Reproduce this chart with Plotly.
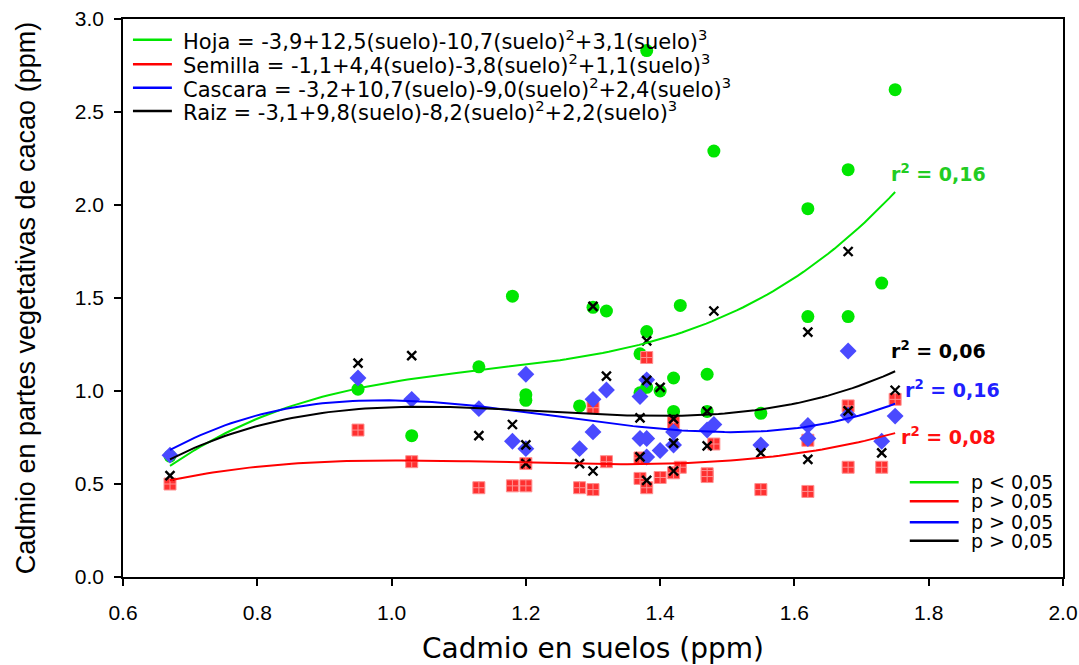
import numpy as np
import plotly.graph_objects as go

# ---------------- data ----------------
hoja_x = [0.67, 0.95, 1.03, 1.13, 1.18, 1.20, 1.20, 1.28, 1.30, 1.32, 1.38, 1.38, 1.37, 1.38, 1.37,
          1.40, 1.42, 1.43, 1.42, 1.47, 1.47, 1.48, 1.55, 1.62, 1.62, 1.68, 1.68, 1.73, 1.75]
hoja_y = [0.65, 1.01, 0.76, 1.13, 1.51, 0.98, 0.95, 0.92, 1.45, 1.43, 2.83, 1.32, 1.20, 1.02, 0.99,
          1.00, 1.07, 1.46, 0.89, 1.09, 0.89, 2.29, 0.88, 1.98, 1.40, 2.19, 1.40, 1.58, 2.62]

semilla_x = [0.67, 0.95, 1.03, 1.13, 1.18, 1.20, 1.20, 1.28, 1.30, 1.30, 1.32, 1.38, 1.37, 1.37, 1.38,
             1.40, 1.42, 1.43, 1.42, 1.47, 1.47, 1.48, 1.55, 1.62, 1.62, 1.68, 1.68, 1.73, 1.75]
semilla_y = [0.50, 0.79, 0.62, 0.48, 0.49, 0.61, 0.49, 0.48, 0.91, 0.47, 0.62, 1.18, 0.64, 0.53, 0.48,
             0.535, 0.83, 0.59, 0.56, 0.555, 0.54, 0.715, 0.47, 0.735, 0.46, 0.92, 0.59, 0.59, 0.955]

cascara_x = [0.67, 0.95, 1.03, 1.13, 1.18, 1.20, 1.20, 1.28, 1.30, 1.30, 1.32, 1.38, 1.37, 1.37, 1.38,
             1.38, 1.40, 1.42, 1.42, 1.47, 1.48, 1.55, 1.62, 1.62, 1.68, 1.68, 1.73, 1.75]
cascara_y = [0.655, 1.07, 0.955, 0.905, 0.73, 1.09, 0.69, 0.69, 0.955, 0.78, 1.005, 1.06, 0.97, 0.745, 0.745,
             0.645, 0.68, 0.78, 0.71, 0.79, 0.82, 0.71, 0.815, 0.745, 1.215, 0.87, 0.73, 0.865]

raiz_x = [0.67, 0.95, 1.03, 1.13, 1.18, 1.20, 1.20, 1.28, 1.30, 1.30, 1.32, 1.38, 1.38, 1.37, 1.37,
          1.38, 1.40, 1.42, 1.42, 1.42, 1.48, 1.47, 1.47, 1.55, 1.62, 1.62, 1.68, 1.68, 1.73, 1.75]
raiz_y = [0.545, 1.15, 1.19, 0.76, 0.82, 0.71, 0.61, 0.61, 1.455, 0.57, 1.08, 1.27, 1.057, 0.855, 0.646,
          0.52, 1.02, 0.85, 0.72, 0.57, 1.43, 0.89, 0.705, 0.667, 1.317, 0.632, 1.75, 0.893, 0.667, 1.004]

equations = [
    "Hoja = -3,9+12,5(suelo)-10,7(suelo)<sup>2</sup>+3,1(suelo)<sup>3</sup>",
    "Semilla = -1,1+4,4(suelo)-3,8(suelo)<sup>2</sup>+1,1(suelo)<sup>3</sup>",
    "Cascara = -3,2+10,7(suelo)-9,0(suelo)<sup>2</sup>+2,4(suelo)<sup>3</sup>",
    "Raiz = -3,1+9,8(suelo)-8,2(suelo)<sup>2</sup>+2,2(suelo)<sup>3</sup>",
]
r2_labels = ["r<sup>2</sup> = 0,16", "r<sup>2</sup> = 0,08", "r<sup>2</sup> = 0,16", "r<sup>2</sup> = 0,06"]
p_labels = ["p < 0,05", "p > 0,05", "p > 0,05", "p > 0,05"]

# ---------------- styles ----------------
line_colors = ["#00e600", "#ff0000", "#0000ff", "#000000"]
label_colors = ["#22cc22", "#ff1010", "#2020ff", "#000000"]
FONT = "DejaVu Sans"

fig = go.Figure()

fig.add_trace(go.Scatter(x=hoja_x, y=hoja_y, mode="markers",
                         marker=dict(symbol="circle", size=13, color="#00e600", line=dict(width=0))))
fig.add_trace(go.Scatter(x=semilla_x, y=semilla_y, mode="markers",
                         marker=dict(symbol="square-cross", size=12, color="#ff3030",
                                     line=dict(width=1, color="#ff9090"))))
fig.add_trace(go.Scatter(x=cascara_x, y=cascara_y, mode="markers",
                         marker=dict(symbol="diamond", size=13, color="#4a4aff", line=dict(width=0))))
fig.add_trace(go.Scatter(x=raiz_x, y=raiz_y, mode="markers",
                         marker=dict(symbol="x-thin", size=9, line=dict(width=2.4, color="black"))))

# cubic regression curves fitted to the data
series = [(hoja_x, hoja_y), (semilla_x, semilla_y), (cascara_x, cascara_y), (raiz_x, raiz_y)]
for (sx, sy), col in zip(series, line_colors):
    coef = np.polyfit(sx, sy, 3)
    xx = np.linspace(min(sx), max(sx), 120)
    yy = np.polyval(coef, xx)
    fig.add_trace(go.Scatter(x=xx, y=yy, mode="lines", line=dict(color=col, width=2)))

# r^2 labels next to the curve ends
r2_pos_y = [2.17, 0.757, 1.009, 1.218]
r2_pos_x = [1.741, 1.756, 1.762, 1.741]
for lab, c, xx, yy in zip(r2_labels, label_colors, r2_pos_x, r2_pos_y):
    fig.add_annotation(x=xx, y=yy, xref="x", yref="y", text=lab, showarrow=False,
                       xanchor="left", yanchor="middle",
                       font=dict(family=FONT, size=19, color=c, weight="bold"))

# equation legend (top-left)
shapes = []
eq_rows = [0.9630, 0.9190, 0.8770, 0.8350]
for txt, col, yp in zip(equations, line_colors, eq_rows):
    shapes.append(dict(type="line", xref="paper", yref="paper", x0=0.0106, x1=0.052, y0=yp, y1=yp,
                       line=dict(color=col, width=2.5)))
    fig.add_annotation(x=0.0617, y=yp, xref="paper", yref="paper", text=txt, showarrow=False,
                       xanchor="left", yanchor="middle",
                       font=dict(family=FONT, size=21, color="black"))

# p-value legend (bottom-right)
p_rows = [0.1697, 0.1357, 0.0981, 0.0651]
for txt, col, yp in zip(p_labels, line_colors, p_rows):
    shapes.append(dict(type="line", xref="paper", yref="paper", x0=0.837, x1=0.889, y0=yp, y1=yp,
                       line=dict(color=col, width=2.5)))
    fig.add_annotation(x=0.900, y=yp, xref="paper", yref="paper", text=txt, showarrow=False,
                       xanchor="left", yanchor="middle",
                       font=dict(family=FONT, size=19, color="black"))

fig.update_layout(
    width=1079, height=665,
    margin=dict(l=123, r=16, t=19, b=88, autoexpand=False),
    paper_bgcolor="white", plot_bgcolor="white",
    showlegend=False, shapes=shapes,
    font=dict(family="Liberation Sans", color="black"),
)
fig.update_xaxes(range=[0.6, 2.0], dtick=0.2, tick0=0.6, tickformat=".1f",
                 showline=True, linecolor="black", linewidth=1.5, mirror=True,
                 ticks="outside", ticklen=7, tickwidth=1.5, tickcolor="black",
                 showgrid=False, zeroline=False, ticklabelstandoff=9, automargin=False,
                 tickfont=dict(family="Liberation Sans", size=21),
                 title=dict(text="Cadmio en suelos (ppm)", standoff=25,
                            font=dict(family=FONT, size=28)))
fig.update_yaxes(range=[0, 3.0], dtick=0.5, tickformat=".1f",
                 showline=True, linecolor="black", linewidth=1.5, mirror=True,
                 ticks="outside", ticklen=7, tickwidth=1.5, tickcolor="black",
                 showgrid=False, zeroline=False, ticklabelstandoff=6, automargin=False,
                 tickfont=dict(family="Liberation Sans", size=21),
                 title=dict(text="Cadmio en partes vegetativas de cacao (ppm)", standoff=31,
                            font=dict(family="Liberation Sans", size=27)))

fig.write_html("out.html")
